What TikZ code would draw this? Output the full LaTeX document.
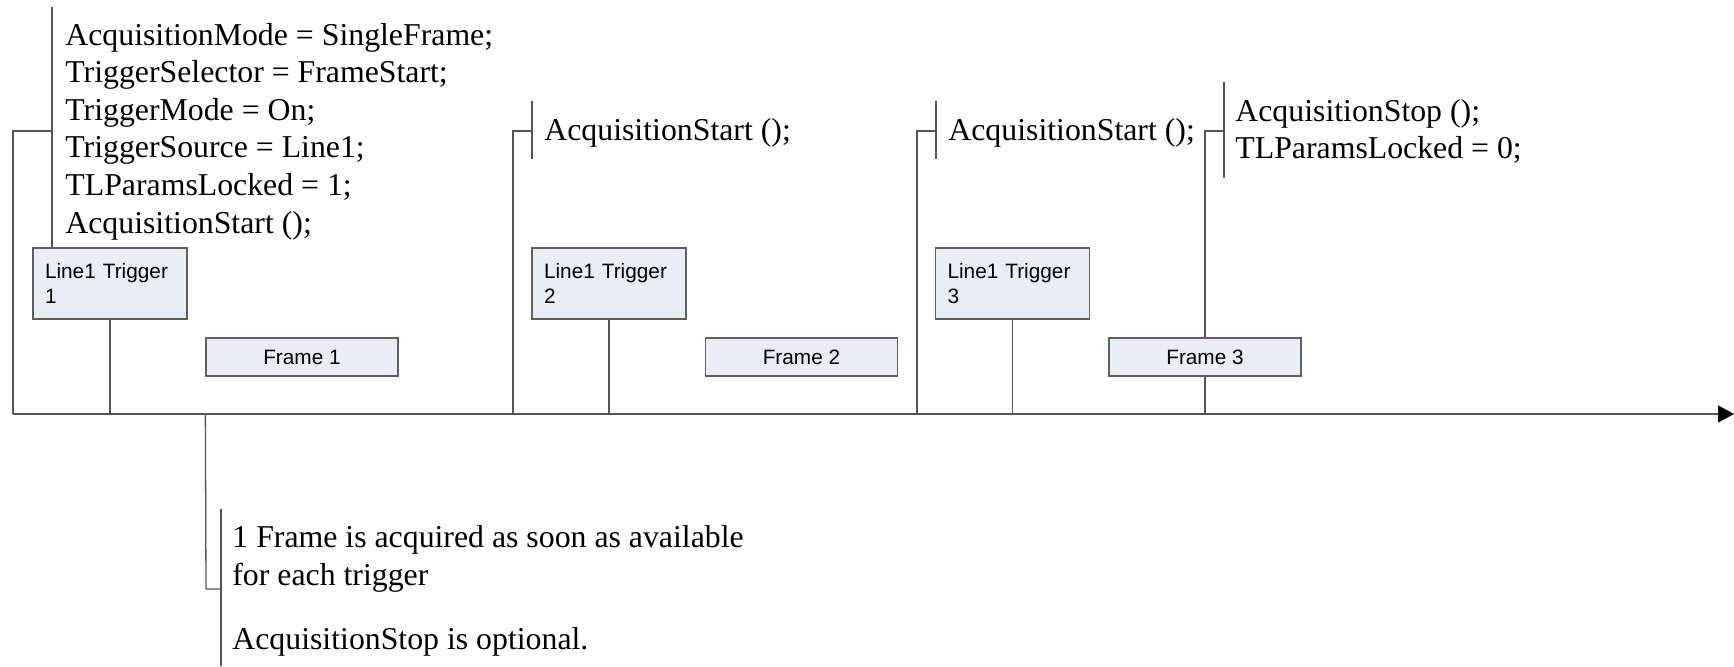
\documentclass[tikz,border=0pt]{standalone}
\usepackage{fontspec}
\setmainfont{Liberation Serif}
\newfontfamily\boxfont{Liberation Sans}
\usetikzlibrary{arrows.meta}
\definecolor{linegray}{RGB}{85,85,85}
\definecolor{boxgray}{RGB}{95,95,95}
\definecolor{boxfill}{RGB}{232,238,248}
\begin{document}
\begin{tikzpicture}[x=0.5pt,y=-0.5pt,
  conn/.style={draw=linegray, line width=0.65pt},
  trig/.style={draw=boxgray, fill=boxfill, line width=0.65pt, minimum width=77pt, minimum height=35.5pt,
    inner sep=0pt, text width=65pt, align=left, font=\boxfont\fontsize{10.4pt}{12.5pt}\selectfont},
  framebox/.style={draw=boxgray, fill=boxfill, line width=0.65pt, minimum width=96pt, minimum height=19pt,
    inner sep=0pt, font=\boxfont\fontsize{10.4pt}{12.5pt}\selectfont},
  note/.style={anchor=base west, inner sep=0pt, align=left, font=\fontsize{15.9pt}{18.8pt}\selectfont}
]
\useasboundingbox (0,0) rectangle (1734,666);

% timeline
\coordinate (tl0) at (13,414);
\coordinate (tlend) at (1734,414);
\draw[conn, -{Triangle[length=8pt,width=8.5pt,black]}] (tl0) -- (tlend);

% trigger boxes
\node[trig] (t1) at (110,283.5) {Line1 Trigger\\1};
\node[trig] (t2) at (609,283.5) {Line1 Trigger\\2};
\node[trig] (t3) at (1012.5,283.5) {Line1 Trigger\\3};

% frame boxes
\node[framebox] (f1) at (302,357) {Frame 1};
\node[framebox] (f2) at (801.5,357) {Frame 2};
\node[framebox] (f3) at (1205,357) {Frame 3};

% connectors from triggers / frame to timeline
\draw[conn] (t1.south) -- (t1.south |- tl0);
\draw[conn] (t2.south) -- (t2.south |- tl0);
\draw[conn] (t3.south) -- (t3.south |- tl0);
\draw[conn] (f3.south) -- (f3.south |- tl0);

% annotation 1
\coordinate (a1s) at (13,131);
\coordinate (a1b) at (52,131);
\coordinate (a1top) at (52,7);
\draw[conn] (tl0) -- (a1s) -- (a1b);
\draw[conn] (a1top) -- (a1top |- t1.north);
\node[note] (n1) at (65,233) {AcquisitionMode = SingleFrame;\\TriggerSelector = FrameStart;\\TriggerMode = On;\\TriggerSource = Line1;\\TLParamsLocked = 1;\\AcquisitionStart ();};

% annotation 2
\coordinate (a2s) at (513,131);
\coordinate (a2b) at (532,131);
\coordinate (a2top) at (532,101);
\coordinate (a2bot) at (532,159);
\draw[conn] (a2s |- tl0) -- (a2s) -- (a2b);
\draw[conn] (a2top) -- (a2bot);
\node[note] (n2) at (544,140) {AcquisitionStart ();};

% annotation 3
\coordinate (a3s) at (917,131);
\coordinate (a3b) at (936,131);
\coordinate (a3top) at (936,101);
\coordinate (a3bot) at (936,159);
\draw[conn] (a3s |- tl0) -- (a3s) -- (a3b);
\draw[conn] (a3top) -- (a3bot);
\node[note] (n3) at (948,140) {AcquisitionStart ();};

% annotation 4
\coordinate (a4s) at (1205,131);
\coordinate (a4b) at (1224,131);
\coordinate (a4top) at (1224,82);
\coordinate (a4bot) at (1224,178);
\draw[conn] (f3.north) -- (a4s) -- (a4b);
\draw[conn] (a4top) -- (a4bot);
\node[note, font=\fontsize{15.9pt}{18.4pt}\selectfont] (n4) at (1235,158) {AcquisitionStop ();\\TLParamsLocked = 0;};

% annotation 5 (bottom)
\coordinate (a5s) at (206,589);
\coordinate (a5b) at (221,589);
\coordinate (a5top) at (221,509);
\coordinate (a5bot) at (221,666);
\draw[conn] (f1.south west |- tl0) -- (a5s) -- (a5b);
\draw[conn] (a5top) -- (a5bot);
\node[note] (n5) at (232,585) {1 Frame is acquired as soon as available\\for each trigger};
\node[note] (n6) at (232,649) {AcquisitionStop is optional.};
\end{tikzpicture}
\end{document}
